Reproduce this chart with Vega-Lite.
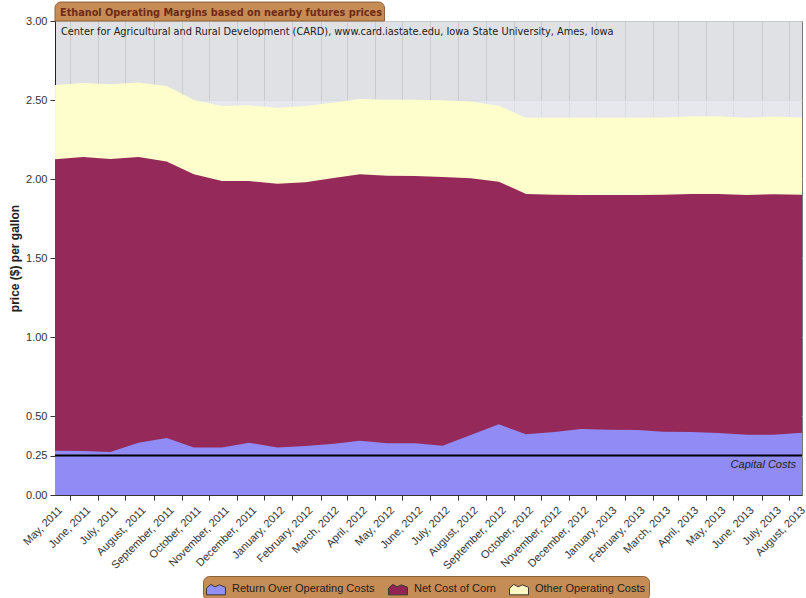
{
  "$schema": "https://vega.github.io/schema/vega-lite/v6.json",
  "width": 747,
  "height": 474,
  "autosize": {"type": "none"},
  "padding": {"left": 55, "top": 21, "right": 4, "bottom": 103},
  "background": "#ffffff",
  "config": {
    "view": {"fill": "#e0e1e4", "stroke": "#777777", "strokeWidth": 1},
    "axis": {"labelFont": "Liberation Sans", "titleFont": "Liberation Sans"}
  },
  "data": {
    "values": [
      {"date": "2011-05-01", "return_top": 0.280, "corn_top": 2.125, "other_top": 2.595},
      {"date": "2011-06-01", "return_top": 0.278, "corn_top": 2.139, "other_top": 2.608},
      {"date": "2011-07-01", "return_top": 0.272, "corn_top": 2.127, "other_top": 2.600},
      {"date": "2011-08-01", "return_top": 0.331, "corn_top": 2.139, "other_top": 2.610},
      {"date": "2011-09-01", "return_top": 0.361, "corn_top": 2.110, "other_top": 2.589},
      {"date": "2011-10-01", "return_top": 0.300, "corn_top": 2.030, "other_top": 2.500},
      {"date": "2011-11-01", "return_top": 0.300, "corn_top": 1.987, "other_top": 2.462},
      {"date": "2011-12-01", "return_top": 0.331, "corn_top": 1.987, "other_top": 2.466},
      {"date": "2012-01-01", "return_top": 0.300, "corn_top": 1.970, "other_top": 2.451},
      {"date": "2012-02-01", "return_top": 0.310, "corn_top": 1.979, "other_top": 2.462},
      {"date": "2012-03-01", "return_top": 0.323, "corn_top": 2.004, "other_top": 2.483},
      {"date": "2012-04-01", "return_top": 0.344, "corn_top": 2.030, "other_top": 2.506},
      {"date": "2012-05-01", "return_top": 0.327, "corn_top": 2.021, "other_top": 2.502},
      {"date": "2012-06-01", "return_top": 0.327, "corn_top": 2.019, "other_top": 2.502},
      {"date": "2012-07-01", "return_top": 0.312, "corn_top": 2.013, "other_top": 2.498},
      {"date": "2012-08-01", "return_top": 0.380, "corn_top": 2.004, "other_top": 2.490},
      {"date": "2012-09-01", "return_top": 0.447, "corn_top": 1.983, "other_top": 2.464},
      {"date": "2012-10-01", "return_top": 0.384, "corn_top": 1.905, "other_top": 2.388},
      {"date": "2012-11-01", "return_top": 0.399, "corn_top": 1.901, "other_top": 2.388},
      {"date": "2012-12-01", "return_top": 0.418, "corn_top": 1.899, "other_top": 2.388},
      {"date": "2013-01-01", "return_top": 0.413, "corn_top": 1.899, "other_top": 2.388},
      {"date": "2013-02-01", "return_top": 0.411, "corn_top": 1.899, "other_top": 2.388},
      {"date": "2013-03-01", "return_top": 0.400, "corn_top": 1.901, "other_top": 2.390},
      {"date": "2013-04-01", "return_top": 0.399, "corn_top": 1.905, "other_top": 2.397},
      {"date": "2013-05-01", "return_top": 0.392, "corn_top": 1.905, "other_top": 2.397},
      {"date": "2013-06-01", "return_top": 0.382, "corn_top": 1.899, "other_top": 2.388},
      {"date": "2013-07-01", "return_top": 0.382, "corn_top": 1.903, "other_top": 2.395},
      {"date": "2013-08-01", "return_top": 0.394, "corn_top": 1.901, "other_top": 2.390}
    ]
  },
  "layer": [
    {
      "data": {"values": [{}]},
      "mark": {"type": "rect", "fill": "#ecf0f6", "opacity": 0.5},
      "encoding": {
        "x": {"datum": {"year": 2011, "month": 5, "date": 1, "utc": true}, "type": "temporal"},
        "x2": {"datum": {"year": 2013, "month": 8, "date": 1, "utc": true}},
        "y": {"datum": 2.0, "type": "quantitative"},
        "y2": {"datum": 2.5}
      }
    },
    {
      "mark": {"type": "area", "opacity": 0.95, "interpolate": "linear"},
      "encoding": {
        "x": {
          "field": "date",
          "type": "temporal",
          "scale": {
            "type": "utc",
            "nice": false,
            "domain": [
              {"year": 2011, "month": 5, "date": 1, "utc": true},
              {"year": 2013, "month": 8, "date": 1, "utc": true}
            ]
          },
          "axis": {
            "title": null,
            "labelExpr": "utcFormat(datum.value, '%B, %Y')",
            "tickCount": {"interval": "month", "step": 1},
            "labelAngle": -45,
            "labelFontSize": 11,
            "labelColor": "#333333",
            "labelOverlap": false,
            "labelBound": false,
            "labelFlush": false,
            "labelPadding": 4,
            "tickOffset": 15,
            "labelOffset": {
              "condition": {"test": "utcyear(datum.value) === 2013 && utcmonth(datum.value) === 7", "value": -18},
              "value": -14
            },
            "tickSize": 5,
            "tickColor": "#333333",
            "domainColor": "#333333",
            "grid": true,
            "gridColor": "#c9cacd"
          }
        },
        "y": {
          "field": "other_top",
          "type": "quantitative",
          "stack": null,
          "scale": {"domain": [0, 3], "nice": false, "zero": true},
          "axis": {
            "title": "price ($) per gallon",
            "values": [0, 0.25, 0.5, 1, 1.5, 2, 2.5, 3],
            "format": ".2f",
            "labelFontSize": 11,
            "labelColor": "#333333",
            "labelPadding": 3,
            "tickSize": 5,
            "tickColor": "#333333",
            "domainColor": "#222222",
            "titleFontSize": 12,
            "titleFontWeight": "bold",
            "titleColor": "#222222",
            "titlePadding": 4,
            "grid": true,
            "gridColor": "#c9cacd"
          }
        },
        "color": {
          "datum": "Other Operating Costs",
          "scale": {
            "domain": ["Return Over Operating Costs", "Net Cost of Corn", "Other Operating Costs"],
            "range": ["#9090ff", "#8f1f53", "#ffffcb"]
          },
          "legend": {
            "orient": "none",
            "legendX": 148,
            "legendY": 555,
            "direction": "horizontal",
            "title": null,
            "fillColor": "#c68c56",
            "strokeColor": "#8e6038",
            "cornerRadius": 6,
            "padding": 3,
            "columnPadding": 11,
            "labelFont": "Liberation Sans",
            "labelFontSize": 11,
            "labelColor": "#222222",
            "labelOffset": 6,
            "symbolType": "M-1,0.6L-1,-0.1L-0.55,-0.5L-0.1,-0.25L0.35,-0.45L1,-0.2L1,0.6Z",
            "symbolSize": 361,
            "symbolStrokeColor": "#333333",
            "symbolStrokeWidth": 1,
            "symbolOpacity": 1
          }
        }
      }
    },
    {
      "mark": {"type": "area", "opacity": 0.95, "interpolate": "linear"},
      "encoding": {
        "x": {"field": "date", "type": "temporal"},
        "y": {"field": "corn_top", "type": "quantitative", "stack": null},
        "color": {"datum": "Net Cost of Corn"}
      }
    },
    {
      "mark": {"type": "area", "opacity": 0.95, "interpolate": "linear"},
      "encoding": {
        "x": {"field": "date", "type": "temporal"},
        "y": {"field": "return_top", "type": "quantitative", "stack": null},
        "color": {"datum": "Return Over Operating Costs"}
      }
    },
    {
      "data": {"values": [{}]},
      "mark": {"type": "rule", "color": "#000000", "strokeWidth": 2},
      "encoding": {
        "y": {"datum": 0.25, "type": "quantitative"}
      }
    },
    {
      "data": {"values": [{}]},
      "mark": {"type": "text", "text": "Capital Costs", "align": "right", "baseline": "top", "dx": -6, "dy": 3, "font": "Liberation Sans", "fontSize": 11, "fontStyle": "italic", "color": "#222222"},
      "encoding": {
        "x": {"datum": {"year": 2013, "month": 8, "date": 1, "utc": true}, "type": "temporal"},
        "y": {"datum": 0.25, "type": "quantitative"}
      }
    },
    {
      "data": {"values": [{}]},
      "mark": {"type": "text", "text": "Center for Agricultural and Rural Development (CARD), www.card.iastate.edu, Iowa State University, Ames, Iowa", "align": "left", "baseline": "middle", "dx": 6, "font": "DejaVu Sans Condensed", "fontSize": 10.9, "color": "#222222"},
      "encoding": {
        "x": {"datum": {"year": 2011, "month": 5, "date": 1, "utc": true}, "type": "temporal"},
        "y": {"datum": 2.93, "type": "quantitative"}
      }
    },
    {
      "data": {"values": [{}]},
      "mark": {"type": "rect", "fill": "#c68c56", "stroke": "#8e6038", "strokeWidth": 1, "cornerRadiusTopLeft": 6, "cornerRadiusTopRight": 6},
      "encoding": {
        "x": {"datum": {"year": 2011, "month": 5, "date": 1, "utc": true}, "type": "temporal"},
        "x2": {"datum": {"year": 2012, "month": 4, "date": 28, "utc": true}},
        "y": {"datum": 3.0, "type": "quantitative"},
        "y2": {"datum": 3.12}
      }
    },
    {
      "data": {"values": [{}]},
      "mark": {"type": "text", "text": "Ethanol Operating Margins based on nearby futures prices", "align": "left", "baseline": "alphabetic", "dx": 5, "dy": -5, "font": "DejaVu Sans Condensed", "fontSize": 10.8, "fontWeight": "bold", "color": "#6e2a16"},
      "encoding": {
        "x": {"datum": {"year": 2011, "month": 5, "date": 1, "utc": true}, "type": "temporal"},
        "y": {"datum": 3.0, "type": "quantitative"}
      }
    }
  ]
}
